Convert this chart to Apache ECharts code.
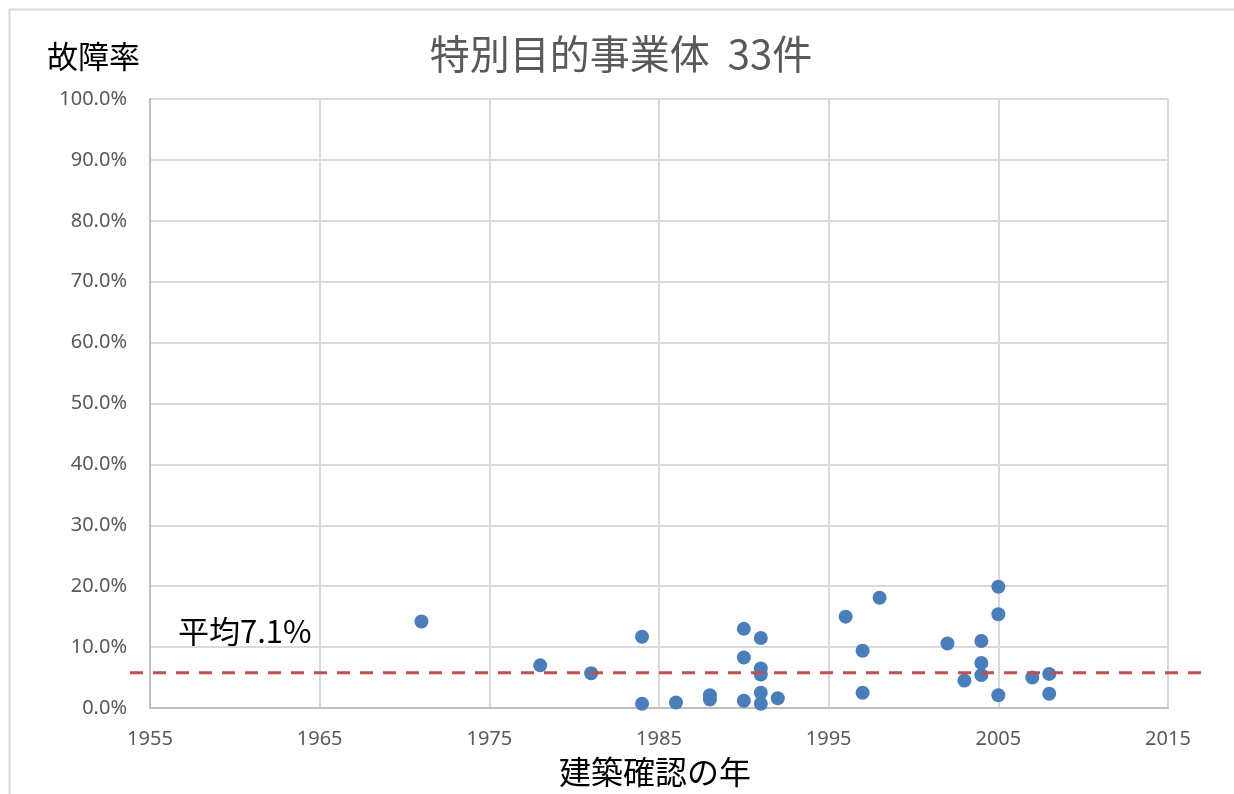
<!DOCTYPE html>
<html>
<head>
<meta charset="utf-8">
<script src="https://cdn.jsdelivr.net/npm/echarts@6/dist/echarts.min.js"></script>
<style>
  html, body { margin: 0; padding: 0; background: #fff; }
  #chart { width: 1234px; height: 794px; }
</style>
</head>
<body>
<div id="chart"></div>
<script>
// 建築確認の年
var years = [1971, 1978, 1981, 1984, 1984, 1986, 1988, 1988, 1990, 1990, 1990,
  1991, 1991, 1991, 1991, 1991, 1992,
  1996, 1997, 1997, 1998, 2002, 2003, 2004, 2004, 2004, 2005, 2005, 2005, 2007, 2008, 2008];
// 故障率 (%)
var rates = [14.2, 7.0, 5.7, 11.7, 0.7, 0.9, 2.1, 1.4, 13.0, 8.3, 1.2,
  11.5, 6.5, 5.5, 2.5, 0.7, 1.6,
  15.0, 9.4, 2.5, 18.1, 10.6, 4.5, 11.0, 7.4, 5.4, 19.9, 15.4, 2.1, 5.0, 5.6, 2.35];

var xTicks = [1955, 1965, 1975, 1985, 1995, 2005, 2015];
var yTicks = [0, 10, 20, 30, 40, 50, 60, 70, 80, 90, 100];
var avgLine = 5.8;   // 破線の位置 (図に描かれた高さ)
var avgLabel = '平均7.1%';

var pts = [];
for (var i = 0; i < years.length; i++) {
	pts.push([years[i], rates[i]]);
}

var numFont = '"Noto Sans", sans-serif';
var jpFont = '"Noto Sans CJK JP", sans-serif';

var chart = echarts.init(document.getElementById('chart'));
chart.setOption({
	animation: false,
	backgroundColor: '#fff',
	grid: [
		{ left: 150, right: 66, top: 99, bottom: 86 },
		{ left: 130, right: 33, top: 99, bottom: 86 }   // 平均線用 (横に少しはみ出す)
	],
	xAxis: [{
		type: 'value',
		gridIndex: 0,
		min: xTicks[0],
		max: xTicks[xTicks.length - 1],
		interval: 10,
		axisLine: { show: true, lineStyle: { color: '#bfbfbf', width: 2 } },
		axisTick: { show: false },
		splitLine: { show: true, lineStyle: { color: '#d9d9d9', width: 2 } },
		axisLabel: {
			color: '#595959', fontSize: 20, fontFamily: numFont, margin: 21,
			formatter: function(v) { return String(v); }
		}
	}, {
		type: 'value',
		gridIndex: 1,
		min: 0, max: 1,
		show: false
	}],
	yAxis: [{
		type: 'value',
		gridIndex: 0,
		min: yTicks[0],
		max: yTicks[yTicks.length - 1],
		interval: 10,
		axisLine: { show: true, lineStyle: { color: '#bfbfbf', width: 2 } },
		axisTick: { show: false },
		splitLine: { show: true, lineStyle: { color: '#d9d9d9', width: 2 } },
		axisLabel: {
			color: '#595959', fontSize: 20, fontFamily: numFont, margin: 23,
			formatter: function(v) { return v.toFixed(1) + '%'; }
		}
	}, {
		type: 'value',
		gridIndex: 1,
		min: 0, max: 100,
		show: false
	}],
	series: [{
		type: 'scatter',
		xAxisIndex: 0,
		yAxisIndex: 0,
		data: pts,
		symbolSize: 14,
		itemStyle: { color: '#4a7ebb', opacity: 1 },
		z: 3
	}, {
		type: 'line',
		xAxisIndex: 1,
		yAxisIndex: 1,
		data: [[0, avgLine], [1, avgLine]],
		symbol: 'none',
		lineStyle: { color: '#c0504d', width: 3, type: [13, 10] },
		z: 4
	}],
	graphic: [
		{ type: 'rect', left: 7, top: 7, shape: { width: 1240, height: 800 },
			style: { fill: 'none', stroke: '#d9d9d9', lineWidth: 2 }, z: 0 },
		{ type: 'text', x: 621, y: 54, style: { text: '特別目的事業体  33件', fill: '#595959',
			font: '40px ' + jpFont, textAlign: 'center', textVerticalAlign: 'middle' } },
		{ type: 'text', x: 47, y: 56, style: { text: '故障率', fill: '#000',
			font: '31px ' + jpFont, textAlign: 'left', textVerticalAlign: 'middle' } },
		{ type: 'text', x: 655, y: 772, style: { text: '建築確認の年', fill: '#000',
			font: '32px ' + jpFont, textAlign: 'center', textVerticalAlign: 'middle' } },
		{ type: 'text', x: 178, y: 631, style: { text: avgLabel, fill: '#000',
			font: '31px ' + jpFont, textAlign: 'left', textVerticalAlign: 'middle' } }
	]
});
</script>
</body>
</html>
